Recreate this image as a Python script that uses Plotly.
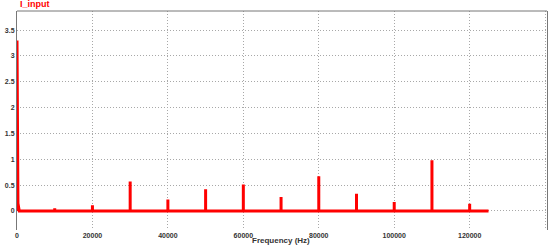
import plotly.graph_objects as go

# harmonic spectrum of I_input
freqs = [10000, 20000, 30000, 40000, 50000, 60000, 70000, 80000, 90000, 100000, 110000, 120000]
amps = [0.05, 0.11, 0.57, 0.22, 0.42, 0.51, 0.27, 0.67, 0.33, 0.17, 0.98, 0.14]
dc_x = [0, 0, 250, 600]
dc_y = [0.0, 3.3, 0.15, 0.0]
f_end = 125000
x_ticks = list(range(0, 140001, 20000))
y_ticks = [0, 0.5, 1, 1.5, 2, 2.5, 3, 3.5]

xs, ys = list(dc_x), list(dc_y)
for f, a in zip(freqs, amps):
    xs += [f, f, f]
    ys += [0, a, 0]
xs.append(f_end)
ys.append(0)

fig = go.Figure()
fig.add_trace(go.Scatter(x=xs, y=ys, mode="lines",
                         line=dict(color="#ff0000", width=3),
                         showlegend=False))

tick_font = dict(family="Liberation Sans, Arial", size=7, color="#333333", weight="bold")
fig.update_layout(
    width=550, height=249,
    paper_bgcolor="white", plot_bgcolor="white",
    margin=dict(l=17, r=3, t=11, b=19),
    xaxis=dict(range=[0, 140500], tickvals=x_ticks, ticktext=[str(v) for v in x_ticks],
               showgrid=True, gridcolor="#a8a8a8", griddash="1px,2px", gridwidth=1,
               zeroline=False, showline=False, ticks="", automargin=False,
               tickfont=tick_font),
    yaxis=dict(range=[-0.37, 3.87], tickvals=y_ticks, ticktext=[f"{v:g}" for v in y_ticks],
               showgrid=True, gridcolor="#a8a8a8", griddash="1px,2px", gridwidth=1,
               zeroline=False, showline=True, linecolor="#777777", linewidth=1,
               mirror=True, ticks="", automargin=False,
               tickfont=tick_font),
)
fig.add_shape(type="line", xref="paper", yref="paper", x0=0, x1=1, y0=1, y1=1,
              line=dict(color="#777777", width=1))
fig.add_annotation(text="I_input", xref="paper", yref="paper", x=0.002, y=1,
                   xanchor="left", yanchor="bottom", showarrow=False,
                   font=dict(family="Liberation Sans, Arial", size=9, color="#ff0000", weight="bold"))
fig.add_annotation(text="Frequency (Hz)", xref="paper", yref="paper", x=0.498, y=0,
                   yshift=-10, xanchor="center", yanchor="middle", showarrow=False,
                   font=dict(family="Liberation Sans, Arial", size=8, color="#333333", weight="bold"))

fig.write_html("out.html", config={"displayModeBar": False},
               post_script="document.body.style.margin='0';")
